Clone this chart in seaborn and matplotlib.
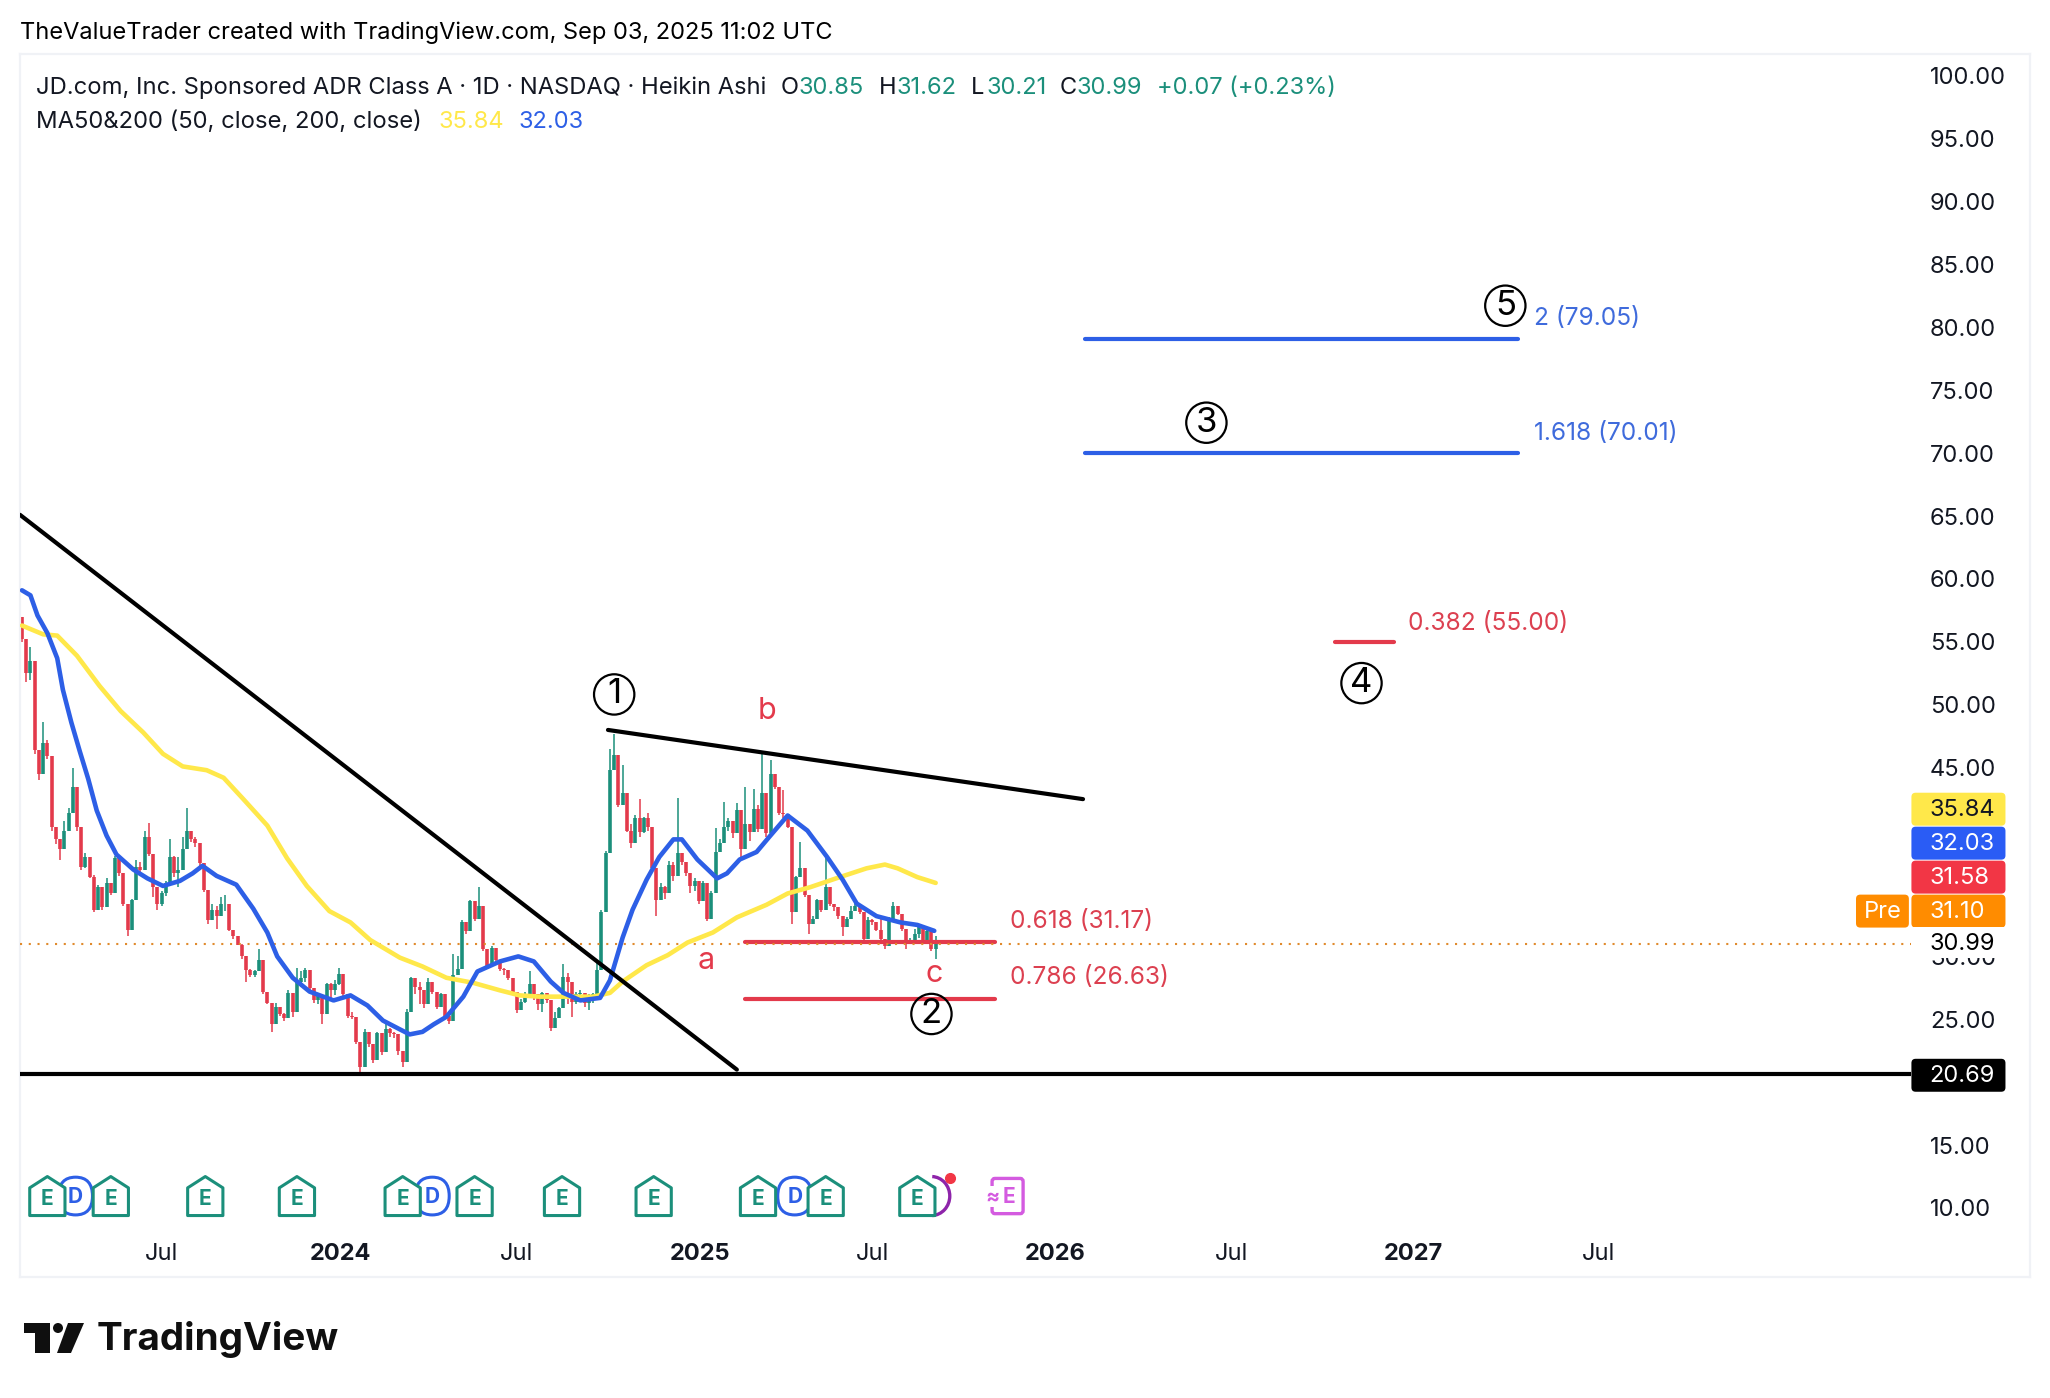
import numpy as np
import pandas as pd
import seaborn as sns
import matplotlib.pyplot as plt
from matplotlib.patches import Polygon, Circle, Arc, FancyBboxPatch, Rectangle

# x axis is counted in trading sessions since the first bar, like the TV time scale
tick_sessions = [98.6, 226, 351, 481, 603.5, 733, 858, 986.5, 1118]
tick_labels = ['Jul', '2024', 'Jul', '2025', 'Jul', '2026', 'Jul', '2027', 'Jul']
# 20, 35 and 40 sit behind the price tags in the original
price_ticks = [10, 15, 25, 30, 45, 50, 55, 60, 65, 70, 75, 80, 85, 90, 95, 100]

# one candle every 3 sessions
closes = [55.2, 52.5, 53.5, 46.4, 44.5, 47.0, 45.9, 40.3, 39.3, 38.5,
          40.0, 41.4, 43.5, 40.3, 37.1, 37.9, 36.3, 33.7, 35.5, 33.9,
          35.8, 35.0, 37.8, 36.6, 34.2, 32.1, 34.5, 37.1, 36.9, 39.5,
          38.1, 35.5, 34.2, 35.0, 35.8, 37.9, 36.6, 36.9, 38.5, 40.0,
          39.3, 39.0, 37.4, 35.3, 32.9, 33.7, 33.2, 34.2, 34.2, 32.1,
          31.6, 30.9, 30.0, 28.9, 28.5, 28.8, 29.7, 27.2, 26.3, 24.6,
          26.0, 25.4, 25.1, 27.1, 25.6, 28.0, 28.3, 28.9, 27.5, 26.5,
          26.9, 25.4, 27.8, 27.3, 27.8, 28.6, 27.0, 25.3, 25.2, 23.2,
          21.2, 24.0, 23.0, 21.8, 23.9, 22.4, 24.2, 23.9, 23.8, 22.5,
          21.6, 25.6, 28.3, 27.6, 27.3, 26.2, 28.0, 27.2, 26.0, 27.0,
          25.3, 24.9, 28.5, 29.0, 32.7, 32.0, 34.4, 33.0, 34.0, 30.6,
          29.2, 30.7, 29.7, 29.0, 28.9, 28.3, 27.2, 25.7, 26.4, 27.0,
          27.8, 27.0, 26.2, 27.1, 26.5, 24.3, 25.1, 25.9, 28.4, 28.0,
          26.4, 27.0, 27.1, 26.3, 26.7, 27.0, 28.9, 33.5, 38.2, 44.8,
          46.0, 42.0, 43.0, 40.0, 39.0, 41.0, 39.9, 41.0, 40.3, 37.0,
          34.5, 35.5, 35.0, 37.3, 36.4, 38.2, 37.5, 36.6, 35.6, 36.0,
          34.4, 35.8, 33.0, 35.0, 38.3, 39.0, 40.3, 40.8, 39.8, 41.6,
          38.5, 40.5, 39.9, 41.7, 40.1, 43.0, 39.8, 44.5, 43.5, 41.4,
          41.3, 40.3, 33.5, 36.3, 37.0, 34.9, 32.6, 33.0, 34.5, 33.7,
          35.5, 34.2, 33.9, 33.2, 32.3, 33.0, 33.6, 34.0, 33.5, 31.4,
          32.9, 32.7, 32.1, 31.4, 30.8, 33.0, 34.0, 33.4, 32.2, 31.0,
          31.3, 31.8, 32.3, 31.3, 32.0, 30.6, 30.99]
highs = [57.0, 54.5, 54.6, 53.0, 46.4, 48.6, 47.2, 45.9, 40.3, 39.3,
         40.8, 41.8, 45.0, 43.4, 39.8, 38.2, 37.6, 36.5, 35.7, 35.5,
         36.2, 35.8, 38.0, 37.8, 36.6, 34.2, 34.6, 37.7, 37.5, 40.0,
         40.6, 38.1, 35.5, 35.2, 36.0, 39.3, 38.0, 37.9, 39.5, 41.8,
         40.0, 39.5, 39.0, 37.4, 35.3, 34.2, 34.0, 34.7, 34.9, 34.2,
         32.1, 31.6, 31.0, 30.0, 29.0, 28.9, 30.6, 29.5, 27.2, 26.3,
         26.3, 26.0, 25.5, 27.3, 26.8, 29.1, 28.8, 29.1, 28.7, 27.5,
         27.0, 26.9, 27.9, 27.9, 28.1, 29.1, 28.6, 27.0, 25.6, 25.2,
         23.2, 24.2, 24.0, 23.0, 24.0, 23.9, 24.6, 24.3, 24.0, 23.8,
         22.5, 25.8, 28.4, 28.0, 28.0, 27.3, 28.3, 28.0, 27.2, 27.1,
         27.0, 25.3, 30.2, 30.0, 32.9, 32.4, 34.5, 34.0, 35.5, 33.5,
         30.6, 30.8, 30.0, 29.7, 29.1, 28.9, 28.3, 27.2, 26.6, 27.2,
         28.8, 27.8, 27.0, 27.2, 27.0, 26.5, 25.6, 26.0, 29.4, 28.7,
         27.5, 27.2, 27.3, 27.0, 27.0, 27.1, 29.5, 33.7, 38.4, 46.5,
         47.7, 45.6, 45.2, 43.0, 40.5, 41.2, 42.5, 41.1, 41.4, 40.3,
         37.0, 35.8, 35.6, 37.6, 37.5, 42.6, 38.2, 37.5, 36.6, 36.2,
         36.0, 36.0, 35.5, 35.2, 40.2, 39.3, 42.3, 41.0, 40.8, 42.2,
         41.4, 43.5, 40.5, 43.3, 42.0, 46.3, 43.0, 45.6, 44.5, 43.5,
         43.2, 41.3, 40.2, 36.4, 39.1, 37.0, 34.9, 33.2, 34.6, 34.5,
         37.9, 35.5, 34.2, 33.9, 33.2, 33.1, 34.0, 34.4, 33.9, 33.5,
         33.1, 33.0, 32.7, 33.0, 31.4, 33.1, 34.3, 34.0, 33.4, 32.2,
         31.5, 32.2, 32.6, 32.3, 32.2, 32.0, 31.62]
lows = [55.0, 51.8, 52.0, 46.1, 44.0, 44.5, 45.7, 40.0, 38.9, 37.7,
        38.5, 40.0, 41.4, 40.0, 36.9, 37.0, 36.2, 33.5, 33.9, 33.7,
        33.9, 34.9, 35.0, 36.4, 34.0, 31.6, 32.1, 34.5, 36.6, 36.9,
        38.0, 34.7, 33.7, 34.0, 34.8, 35.8, 36.3, 35.5, 36.9, 38.5,
        39.1, 38.7, 37.2, 35.1, 32.6, 32.9, 32.2, 33.2, 33.6, 32.0,
        31.4, 30.9, 29.8, 28.0, 28.4, 28.4, 28.8, 27.0, 26.2, 24.0,
        24.6, 25.3, 24.9, 25.1, 25.2, 25.8, 27.6, 28.0, 27.3, 26.3,
        26.2, 24.6, 25.4, 26.6, 26.9, 27.7, 26.8, 25.1, 25.0, 23.0,
        20.8, 21.2, 22.8, 21.5, 21.8, 22.2, 22.4, 23.6, 23.5, 22.2,
        21.2, 21.6, 25.6, 27.0, 26.2, 25.9, 26.2, 27.0, 25.8, 26.0,
        25.1, 24.6, 24.9, 28.7, 29.0, 31.8, 32.0, 32.8, 33.0, 30.4,
        29.0, 29.2, 29.5, 28.8, 28.5, 28.1, 27.0, 25.5, 25.7, 26.3,
        26.8, 26.5, 25.7, 25.6, 26.3, 24.1, 24.3, 25.1, 25.9, 26.2,
        25.2, 26.2, 26.5, 26.0, 25.7, 26.3, 27.0, 28.9, 33.5, 38.2,
        44.8, 41.9, 42.0, 39.9, 38.6, 39.0, 39.5, 39.8, 40.0, 36.8,
        33.2, 34.5, 34.6, 35.0, 36.0, 36.4, 37.3, 36.4, 35.0, 35.2,
        34.2, 34.4, 32.8, 33.0, 35.0, 38.3, 39.0, 40.0, 39.4, 39.8,
        37.8, 38.5, 39.2, 39.9, 39.9, 40.1, 39.5, 39.8, 43.3, 41.2,
        41.0, 40.2, 32.6, 33.5, 36.3, 34.7, 31.8, 32.6, 33.0, 33.5,
        33.7, 34.0, 33.6, 33.0, 31.6, 32.3, 33.0, 33.6, 33.4, 31.2,
        31.4, 32.5, 32.0, 31.3, 30.6, 30.8, 33.0, 33.3, 32.0, 30.6,
        31.0, 31.2, 31.5, 31.2, 31.2, 30.4, 29.8]
first_open = 57.0

# moving averages, session / price pairs
ma50_sessions = [0, 6, 11, 18, 25, 29, 35, 41, 47, 53, 60, 67, 79, 89, 100, 112, 121, 128, 138, 152,
                 164, 174, 181, 192, 204, 221, 233, 245, 256, 268, 275, 284, 292, 301, 313, 323, 339,
                 352, 363, 375, 384, 396, 410, 417, 426, 433, 443, 452, 462, 468, 479, 493, 500, 509,
                 521, 530, 543, 557, 571, 582, 592, 606, 623, 635, 647]
ma50_values = [59.1, 58.7, 57.1, 55.7, 53.7, 51.2, 48.6, 46.3, 44.1, 41.6, 39.6, 38.1, 36.9, 36.2, 35.6,
               36.0, 36.6, 37.2, 36.4, 35.7, 33.8, 31.9, 30.0, 28.3, 27.2, 26.5, 26.9, 26.1, 24.9, 24.2,
               23.8, 24.0, 24.6, 25.2, 26.8, 28.8, 29.6, 30.0, 29.6, 28.0, 27.1, 26.5, 26.7, 28.1, 31.5,
               33.7, 36.1, 37.9, 39.3, 39.3, 37.7, 36.2, 36.6, 37.7, 38.3, 39.5, 41.2, 40.0, 37.9, 36.1,
               34.2, 33.2, 32.7, 32.5, 32.03]
ma200_sessions = [0, 15, 25, 39, 55, 70, 86, 100, 114, 131, 143, 157, 174, 188, 202, 218, 233, 247, 268,
                  284, 301, 320, 339, 353, 367, 387, 405, 417, 426, 443, 458, 472, 490, 507, 528, 543,
                  559, 580, 599, 612, 621, 635, 648]
ma200_values = [56.3, 55.6, 55.5, 53.9, 51.5, 49.5, 47.8, 46.1, 45.1, 44.8, 44.2, 42.5, 40.4, 37.8, 35.6,
                33.6, 32.7, 31.3, 29.9, 29.2, 28.3, 27.9, 27.3, 26.9, 26.8, 26.8, 26.8, 27.1, 28.0, 29.3,
                30.1, 31.1, 31.9, 33.1, 34.1, 35.0, 35.5, 36.3, 37.0, 37.3, 37.0, 36.3, 35.84]

# drawings on the chart
earnings = [18, 63, 130, 195, 270, 321, 383, 448, 522, 570, 635]
dividends = [38, 291, 548]
next_earnings = 699

GREEN = '#1b8f7b'
RED = '#e33a4b'
BLUE = '#2d5fe6'
YELLOW = '#ffe84a'
ORANGE = '#ff8c00'
INK = '#131722'
FONT = 'Inter'

sns.set_theme(style='white', font=FONT)
plt.rcParams['font.family'] = [FONT, 'DejaVu Sans']

fig = plt.figure(figsize=(20.5, 13.98), dpi=100, facecolor='white')

# full page layer in pixel units for the header and the logo
page = fig.add_axes([0, 0, 1, 1], zorder=0)
page.set_xlim(0, 2050)
page.set_ylim(1398, 0)
page.axis('off')

# plot frame (20,54)-(2030,1277)
ax = fig.add_axes([20 / 2050, 1 - 1277 / 1398, 2010 / 2050, 1223 / 1398], zorder=1)
ax.patch.set_alpha(0)
ax.set_xlim(-1.4, 1424.1)
ax.set_ylim(4.515, 101.73)
for s in ax.spines.values():
    s.set_color('#f0f2f6')
    s.set_linewidth(1.6)

ax.yaxis.tick_right()
ax.set_yticks(price_ticks)
ax.set_yticklabels(['%.2f' % p for p in price_ticks], fontsize=17, color=INK)
ax.tick_params(axis='y', length=0, pad=-72)
for lab in ax.get_yticklabels():
    lab.set_ha('left')
ax.set_xticks(tick_sessions)
ax.set_xticklabels(tick_labels, fontsize=17, color=INK)
ax.tick_params(axis='x', length=0, pad=-24.5)
for lab in ax.get_xticklabels():
    if lab.get_text() != 'Jul':
        lab.set_fontweight('bold')
ax.set_xlabel('')
ax.set_ylabel('')
ax.grid(False)

# candles
candle_x = np.arange(len(closes)) * 3
opens = np.array([first_open] + closes[:-1])
closes_a = np.array(closes)
cols = [GREEN if c >= o else RED for o, c in zip(opens, closes_a)]
ax.vlines(candle_x, lows, highs, colors=cols, lw=1.1, zorder=2)
ax.vlines(candle_x, np.minimum(opens, closes_a), np.maximum(opens, closes_a), colors=cols, lw=2.6, zorder=2)

# last price dotted line
ax.plot([-1.4, 1340], [30.99, 30.99], color='#e08a2c', lw=1.5, ls=(0, (1, 3.2)), zorder=2.6)

# moving averages
ma200 = pd.DataFrame({'session': ma200_sessions, 'ma': ma200_values})
ma50 = pd.DataFrame({'session': ma50_sessions, 'ma': ma50_values})
sns.lineplot(data=ma200, x='session', y='ma', color=YELLOW, lw=3.3, ax=ax, zorder=3, errorbar=None)
sns.lineplot(data=ma50, x='session', y='ma', color=BLUE, lw=3.3, ax=ax, zorder=3, errorbar=None)
ax.set_xlabel('')
ax.set_ylabel('')

# trend lines
ax.plot([-1.4, 507], [65.1, 21.0], color='black', lw=3, zorder=4, solid_capstyle='round')
ax.plot([415.6, 752.5], [48.0, 42.5], color='black', lw=3, zorder=4, solid_capstyle='round')
ax.plot([-1.4, 1340], [20.65, 20.65], color='black', lw=3, zorder=4, solid_capstyle='butt')

# fib levels
ax.plot([513, 690], [31.17, 31.17], color=RED, lw=3, zorder=2.5, solid_capstyle='round')
ax.plot([513, 690], [26.63, 26.63], color=RED, lw=3, zorder=2.5, solid_capstyle='round')
ax.plot([754, 1061], [79.05, 79.05], color=BLUE, lw=3, zorder=4, solid_capstyle='round')
ax.plot([754, 1061], [70.01, 70.01], color=BLUE, lw=3, zorder=4, solid_capstyle='round')
ax.plot([931, 973], [55.0, 55.0], color=RED, lw=3, zorder=4, solid_capstyle='round')

LEVEL_RED = '#dc4050'
LEVEL_BLUE = '#3f6bdc'
ax.text(701, 32.8, '0.618 (31.17)', color=LEVEL_RED, fontsize=17.6, va='center')
ax.text(701, 28.3, '0.786 (26.63)', color=LEVEL_RED, fontsize=17.6, va='center')
ax.text(1072, 80.7, '2 (79.05)', color=LEVEL_BLUE, fontsize=17.6, va='center')
ax.text(1072, 71.6, '1.618 (70.01)', color=LEVEL_BLUE, fontsize=17.6, va='center')
ax.text(983, 56.5, '0.382 (55.00)', color=LEVEL_RED, fontsize=17.6, va='center')

# wave labels
for lab, sx, py in [('1', 420, 51.1), ('2', 645, 25.7), ('3', 840, 72.7), ('4', 950, 52.0), ('5', 1052, 82.0)]:
    ax.text(sx, py, lab, fontsize=25, color='black', ha='center', va='center_baseline', zorder=5,
            bbox=dict(boxstyle='circle,pad=0.12', fc='none', ec='black', lw=1.6))
for lab, sx, py in [('a', 485, 29.6), ('b', 528, 49.5), ('c', 647, 28.6)]:
    ax.text(sx, py, lab, fontsize=22, color=RED, ha='center', va='center', zorder=5)

# event markers
MY = 10.95
HW, HH = 12.5, 1.55   # half width in sessions, half height in price


def house(sx, color):
    pts = [(sx - HW, MY + HH * 0.42), (sx, MY + HH), (sx + HW, MY + HH * 0.42),
           (sx + HW, MY - HH), (sx - HW, MY - HH)]
    ax.add_patch(Polygon(pts, closed=True, fc='white', ec=color, lw=2.2, joinstyle='round', zorder=6))
    ax.text(sx, MY - 0.25, 'E', color=color, fontsize=15, fontweight='bold', ha='center', va='center', zorder=7)


for sx in dividends:
    ax.add_patch(FancyBboxPatch((sx - 12, MY - 1.5), 24, 3.0, boxstyle='round,pad=0,rounding_size=12',
                                mutation_aspect=1.5 / 12, fc='white', ec=BLUE, lw=2.2, zorder=5))
    ax.text(sx, MY - 0.05, 'D', color=BLUE, fontsize=15, fontweight='bold', ha='center', va='center', zorder=5.5)

for sx in earnings:
    house(sx, GREEN)

# split arc and the red dot next to the last earnings mark
ax.add_patch(Arc((645, MY), 26, 3.1, theta1=-70, theta2=70, color='#8e24aa', lw=2.4, zorder=5))
ax.plot([658], [12.35], 'o', color='#f23645', ms=7, zorder=7)

ax.add_patch(FancyBboxPatch((next_earnings - 11, MY - 1.4), 22, 2.8, boxstyle='round,pad=0,rounding_size=2',
                            mutation_aspect=0.12, fc='white', ec='#d45be0', lw=2.4, zorder=6))
ax.text(next_earnings + 1, MY - 0.05, 'E', color='#d45be0', fontsize=15, fontweight='bold', ha='center', va='center', zorder=7)
ax.text(next_earnings - 11, MY - 0.05, '≈', color='#d45be0', fontsize=15, fontweight='bold', ha='center', va='center', zorder=7,
        bbox=dict(fc='white', ec='none', pad=0.5))

# price tags on the right
TAG_X, TAG_W, TAG_H = 1340.0, 66.7, 2.62
TEXT_X = 1353.0


def tag(py, text, fc, tc, x=TAG_X, w=TAG_W, center=False):
    ax.add_patch(FancyBboxPatch((x, py - TAG_H / 2), w, TAG_H, boxstyle='round,pad=0,rounding_size=3',
                                mutation_aspect=0.112, fc=fc, ec='none', zorder=8))
    if center:
        ax.text(x + w / 2, py - 0.05, text, color=tc, fontsize=17, ha='center', va='center', zorder=9)
    else:
        ax.text(TEXT_X, py - 0.05, text, color=tc, fontsize=17, ha='left', va='center', zorder=9)


tag(41.7, '35.84', YELLOW, INK)
tag(39.0, '32.03', '#2a5cf5', 'white')
tag(36.3, '31.58', '#f23645', 'white')
tag(33.6, '31.10', ORANGE, 'white')
tag(33.6, 'Pre', ORANGE, 'white', x=1300.7, w=37.5, center=True)
tag(20.55, '20.69', 'black', 'white')
ax.add_patch(Rectangle((TAG_X, 29.9), TAG_W, 2.4, fc='white', ec='none', zorder=8))
ax.text(TEXT_X, 30.99, '30.99', color='black', fontsize=17, ha='left', va='center', zorder=9)

# header text
page.text(20, 33, 'TheValueTrader created with TradingView.com, Sep 03, 2025 11:02 UTC',
          fontsize=17, color='black', va='center')
page.text(36, 88, 'JD.com, Inc. Sponsored ADR Class A · 1D · NASDAQ · Heikin Ashi', fontsize=17.1, color=INK, va='center')
for x, s, c in [(780.5, 'O', INK), (799, '30.85', GREEN), (878.6, 'H', INK), (897, '31.62', GREEN),
                (971, 'L', INK), (986, '30.21', GREEN), (1060, 'C', INK), (1077, '30.99', GREEN),
                (1157, '+0.07 (+0.23%)', GREEN)]:
    page.text(x, 88, s, fontsize=17, color=c, va='center')
page.text(36, 122, 'MA50&200 (50, close, 200, close)', fontsize=17.15, color=INK, va='center')
page.text(438, 122, '35.84', fontsize=17, color=YELLOW, va='center')
page.text(518, 122, '32.03', fontsize=17, color=BLUE, va='center')

# TradingView logo
LOGO = '#0f0f0f'
page.add_patch(Polygon([(24, 1323), (50, 1323), (50, 1353), (35, 1353), (35, 1333), (24, 1333)], fc=LOGO, ec='none'))
page.add_patch(Circle((58, 1328), 5, fc=LOGO, ec='none'))
page.add_patch(Polygon([(84, 1323), (71, 1353), (57, 1353), (68, 1323)], fc=LOGO, ec='none'))
page.text(97, 1340, 'TradingView', fontsize=27.8, fontweight='bold', color=LOGO, va='center')

fig.savefig('out.png', dpi=100)
